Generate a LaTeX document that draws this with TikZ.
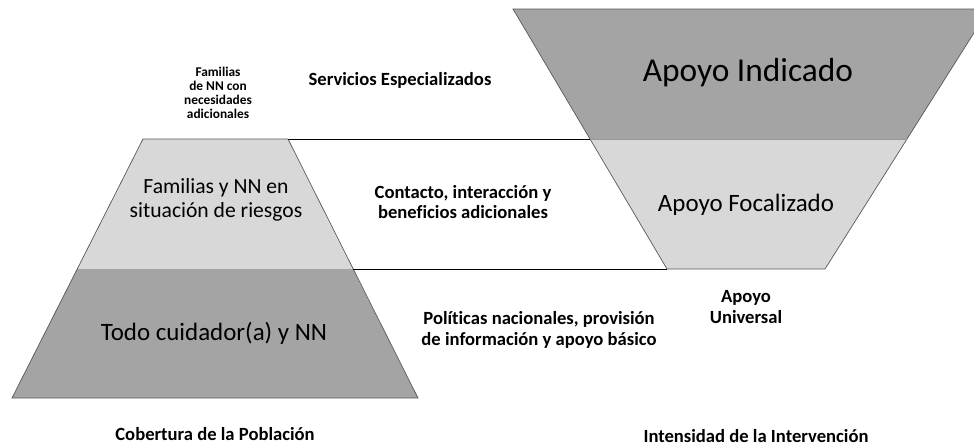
\documentclass[tikz,border=0pt]{standalone}
\usepackage{fontspec}
\setmainfont{Carlito}[Ligatures=NoCommon]
\definecolor{bandDark}{HTML}{A4A4A4}
\definecolor{bandLight}{HTML}{D8D8D8}

\begin{document}
\begin{tikzpicture}[x=0.02cm, y=-0.02cm,
  band/.style={draw=black!65, line width=0.4pt},
  rule/.style={draw=black, line width=0.5pt},
  lvl/.style={font=\fontsize{14.2}{16}\selectfont, align=center},
  lvlsmall/.style={font=\fontsize{12.3}{13.5}\selectfont, align=center},
  lvlbig/.style={font=\fontsize{19}{21}\selectfont},
  note/.style={font=\fontsize{10.6}{11.5}\selectfont\bfseries, align=center},
  tiny/.style={font=\fontsize{7.6}{8}\selectfont\bfseries, align=center}]
  \useasboundingbox (0,0) rectangle (974,447);
  \clip (0,0) rectangle (974,447);

  % Pyramid corners (coverage, left)
  \coordinate (PtopL) at (143,139);
  \coordinate (PtopR) at (288,139);
  \coordinate (PmidL) at (77,269);
  \coordinate (PmidR) at (353,269);
  \coordinate (PbotL) at (12,398);
  \coordinate (PbotR) at (418,398);

  % Funnel corners (intensity, right; top right runs off the page)
  \coordinate (FtopL) at (513,9);
  \coordinate (FtopR) at (989,9);
  \coordinate (FmidL) at (590,139);
  \coordinate (FmidR) at (907,139);
  \coordinate (FbotL) at (667,269);
  \coordinate (FbotR) at (825,269);

  % Bands
  \fill[bandLight] (PtopL) -- (PtopR) -- (PmidR) -- (PmidL) -- cycle;
  \fill[bandDark] (PmidL) -- (PmidR) -- (PbotR) -- (PbotL) -- cycle;
  \fill[bandDark] (FtopL) -- (FtopR) -- (FmidR) -- (FmidL) -- cycle;
  \fill[bandLight] (FmidL) -- (FmidR) -- (FbotR) -- (FbotL) -- cycle;
  \draw[band] (PtopL) -- (PtopR) -- (PbotR) -- (PbotL) -- cycle;
  \draw[band] (FtopL) -- (FtopR) -- (FbotR) -- (FbotL) -- cycle;
  \draw[band, draw=black!40] (FmidL) -- (FmidR);

  % Level rules
  \draw[rule] (PtopR) -- (FmidL);
  \draw[rule] (PmidR) -- (FbotL);

  % Labels inside the shapes
  \node[lvlsmall] (riesgo) at (216,200) {Familias y NN en\\situación de riesgos};
  \node[lvl] (todo) at (214,333) {Todo cuidador(a) y NN};
  \node[lvlbig] (indicado) at (748,73) {Apoyo Indicado};
  \node[lvl] (focal) at (746,205) {Apoyo Focalizado};

  % Side notes
  \node[tiny] (adicional) at (218,93) {Familias\\de NN con\\necesidades\\adicionales};
  \node[note] (especial) at (400,80) {Servicios Especializados};
  \node[note] (contacto) at (463,202) {Contacto, interacción y\\beneficios adicionales};
  \node[note] (politica) at (539,330) {Políticas nacionales, provisión\\de información y apoyo básico};
  \node[note] (universal) at (746,307) {Apoyo\\Universal};

  % Axis captions
  \node[note] (cobertura) at (215,434) {Cobertura de la Población};
  \node[note] (intensidad) at (756,436) {Intensidad de la Intervención};
\end{tikzpicture}
\end{document}
